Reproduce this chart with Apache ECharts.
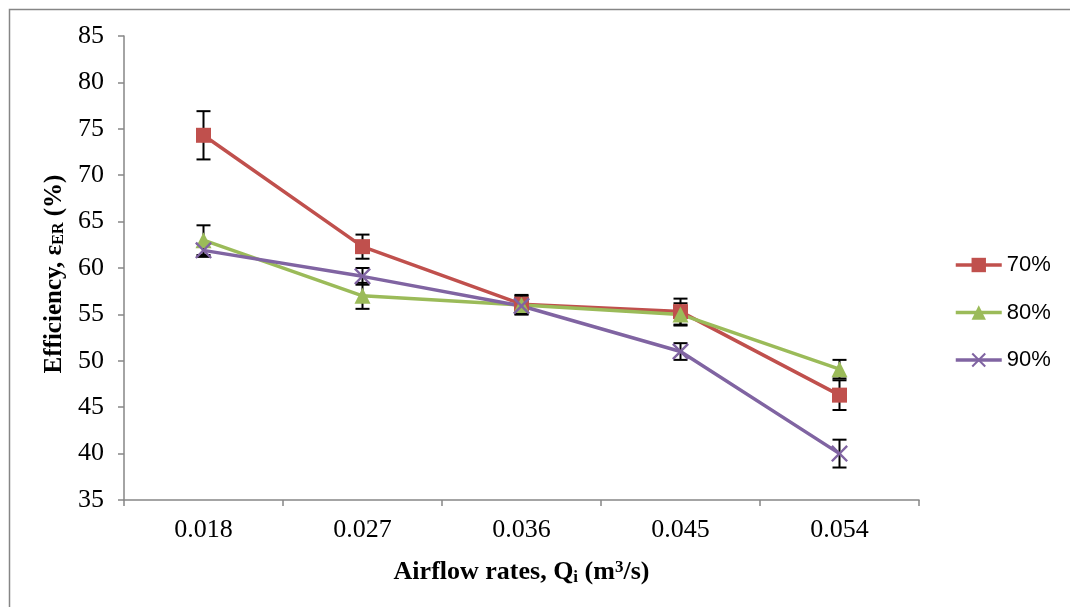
<!DOCTYPE html>
<html>
<head>
<meta charset="utf-8">
<script src="https://cdn.jsdelivr.net/npm/echarts@6/dist/echarts.min.js"></script>
<style>html,body{margin:0;padding:0;background:#fff}#c{width:1070px;height:607px}</style>
</head>
<body>
<div id="c"></div>
<script>
const categories = ['0.018', '0.027', '0.036', '0.045', '0.054'];
const seriesNames = ['70%', '80%', '90%'];
const values70 = [74.3, 62.3, 56.1, 55.3, 46.3];
const values80 = [63.0, 57.0, 56.0, 55.0, 49.1];
const values90 = [61.9, 59.1, 55.9, 51.0, 40.0];
const err70 = [2.6, 1.3, 1.0, 1.4, 1.6];
const err80 = [1.6, 1.4, 1.0, 1.2, 1.0];
const err90 = [0.7, 0.9, 0.9, 0.9, 1.5];
const yTicks = [35, 40, 45, 50, 55, 60, 65, 70, 75, 80, 85];

const colors = ['#C0504D', '#9BBB59', '#8064A2'];
const symbols = ['rect', 'triangle',
  'path://M0,1 L1,0 L5,4 L9,0 L10,1 L6,5 L10,9 L9,10 L5,6 L1,10 L0,9 L4,5 Z'];
const symbolSizes = [15, 16, 17];
const allVals = [values70, values80, values90];
const allErr = [err70, err80, err90];

const serif = '"Liberation Serif", "Times New Roman", serif';
const sans = '"Liberation Sans", Arial, sans-serif';

const series = [];
allVals.forEach((vals, s) => {
  series.push({
    type: 'custom',
    name: 'err' + s,
    z: 1,
    silent: true,
    data: vals.map((v, i) => [i, v - allErr[s][i], v + allErr[s][i]]),
    renderItem: function (params, api) {
      const lo = api.coord([api.value(0), api.value(1)]);
      const hi = api.coord([api.value(0), api.value(2)]);
      const w = 7;
      const st = { stroke: '#000', lineWidth: 2 };
      return {
        type: 'group',
        children: [
          { type: 'line', shape: { x1: lo[0], y1: lo[1], x2: hi[0], y2: hi[1] }, style: st },
          { type: 'line', shape: { x1: lo[0] - w, y1: lo[1], x2: lo[0] + w, y2: lo[1] }, style: st },
          { type: 'line', shape: { x1: hi[0] - w, y1: hi[1], x2: hi[0] + w, y2: hi[1] }, style: st }
        ]
      };
    }
  });
});
allVals.forEach((vals, s) => {
  series.push({
    type: 'line',
    name: seriesNames[s],
    z: 3,
    data: vals,
    symbol: symbols[s],
    symbolSize: symbolSizes[s],
    showAllSymbol: true,
    lineStyle: { color: colors[s], width: 3.5 },
    itemStyle: { color: colors[s], borderWidth: 0 },
    emphasis: { disabled: true }
  });
});

const chart = echarts.init(document.getElementById('c'), null, { renderer: 'canvas' });
chart.setOption({
  animation: false,
  backgroundColor: '#fff',
  graphic: [{
    type: 'rect', left: 7, top: 7,
    shape: { width: 1200, height: 800 },
    style: { fill: 'none', stroke: '#868686', lineWidth: 1.5 },
    z: -1
  }],
  grid: { left: 124, top: 36, right: 151, bottom: 107 },
  legend: {
    data: seriesNames,
    orient: 'vertical',
    left: 949,
    top: 249,
    itemWidth: 46,
    itemHeight: 18,
    itemGap: 25.5,
    lineStyle: { width: 3.5 },
    textStyle: { fontFamily: sans, fontSize: 22, color: '#000', lineHeight: 22 }
  },
  xAxis: {
    type: 'category',
    data: categories,
    boundaryGap: true,
    axisLine: { lineStyle: { color: '#868686', width: 1.5 } },
    axisTick: { show: true, length: 6, lineStyle: { color: '#868686', width: 1.5 } },
    axisLabel: { fontFamily: serif, fontSize: 26, color: '#000', margin: 17 },
    name: '{b|Airflow rates, Q}{s|i}{b| (m}{p|3}{b|/s)}',
    nameLocation: 'middle',
    nameGap: 59,
    nameTextStyle: {
      rich: {
        b: { fontFamily: serif, fontSize: 26, fontWeight: 'bold', color: '#000' },
        s: { fontFamily: serif, fontSize: 17, fontWeight: 'bold', color: '#000', padding: [10, 0, 0, 0] },
        p: { fontFamily: serif, fontSize: 17, fontWeight: 'bold', color: '#000', padding: [0, 0, 10, 0] }
      }
    }
  },
  yAxis: {
    type: 'value',
    min: 35, max: 85, interval: 5,
    splitLine: { show: false },
    axisLine: { show: true, lineStyle: { color: '#868686', width: 1.5 } },
    axisTick: { show: true, length: 6, lineStyle: { color: '#868686', width: 1.5 } },
    axisLabel: {
      fontFamily: serif, fontSize: 26, color: '#000', margin: 20,
      formatter: function (v) { return yTicks.indexOf(v) >= 0 ? String(v) : ''; }
    },
    name: '{b|Efficiency, ε}{s|ER}{b| (%)}',
    nameLocation: 'middle',
    nameGap: 55,
    nameRotate: 90,
    nameTextStyle: {
      padding: [0, 12, 0, 0],
      rich: {
        b: { fontFamily: serif, fontSize: 25, fontWeight: 'bold', color: '#000' },
        s: { fontFamily: serif, fontSize: 16, fontWeight: 'bold', color: '#000', padding: [10, 0, 0, 0] }
      }
    }
  },
  series: series
});
</script>
</body>
</html>
